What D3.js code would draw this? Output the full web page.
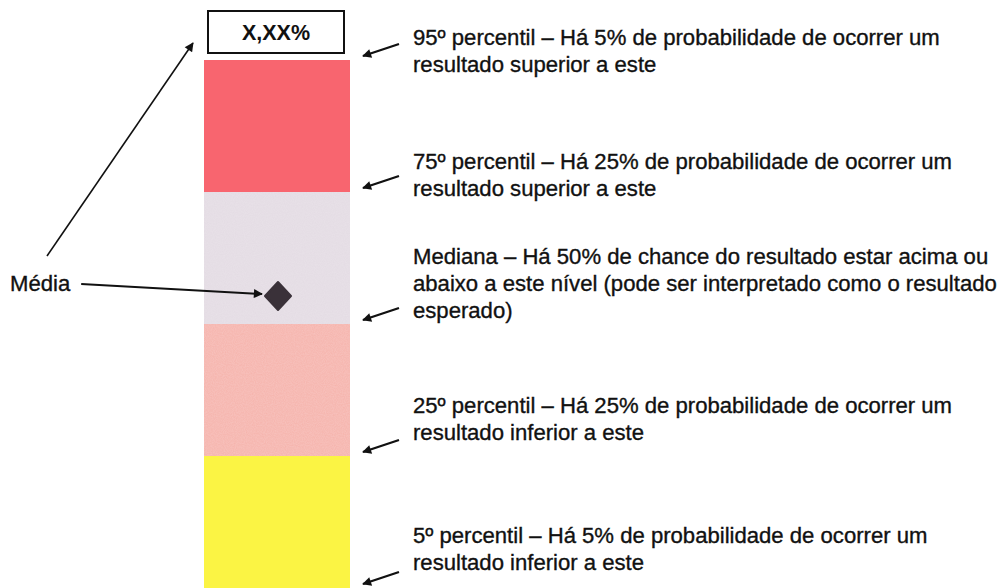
<!DOCTYPE html>
<html>
<head>
<meta charset="utf-8">
<script src="https://cdn.jsdelivr.net/npm/d3@7"></script>
<style>
html,body{margin:0;padding:0;background:#fff;}
svg{display:block;}
text{font-family:"Liberation Sans",Arial,Helvetica,sans-serif;fill:#111;}
text.ann{stroke:#111;stroke-width:0.35px;}
</style>
</head>
<body>
<svg id="chart" width="999" height="588"></svg>
<script>
// ---- data ----
const percentiles = [95, 75, 50, 25, 5];
const bandLabels = ["75–95", "50–75", "25–50", "5–25"];
const bandColors = ["#f8656f", "#e3dbe3", "#f6b2ab", "#fbf444"];
const meanValue = 55.3;
const meanLabel = "Média";
const valueLabel = "X,XX%";
const annotations = [
  ["95º percentil – Há 5% de probabilidade de ocorrer um", "resultado superior a este"],
  ["75º percentil – Há 25% de probabilidade de ocorrer um", "resultado superior a este"],
  ["Mediana – Há 50% de chance do resultado estar acima ou", "abaixo a este nível (pode ser interpretado como o resultado", "esperado)"],
  ["25º percentil – Há 25% de probabilidade de ocorrer um", "resultado inferior a este"],
  ["5º percentil – Há 5% de probabilidade de ocorrer um", "resultado inferior a este"]
];

// ---- drawing ----
const svg = d3.select("#chart");
const y = d3.scaleLinear().domain(percentiles).range([60, 192, 324, 456, 588]);
const x = d3.scaleLinear().domain([0, 1]).range([204, 350]);

const defs = svg.append("defs");
defs.append("marker").attr("id", "ah").attr("viewBox", "0 0 10 10")
  .attr("refX", 9).attr("refY", 5).attr("markerWidth", 11).attr("markerHeight", 9)
  .attr("markerUnits", "userSpaceOnUse").attr("orient", "auto")
  .append("path").attr("d", "M0,0 L10,5 L0,10 Z").attr("fill", "#111");

const f = defs.append("filter").attr("id", "grain").attr("x", 0).attr("y", 0).attr("width", 1).attr("height", 1);
f.append("feTurbulence").attr("type", "fractalNoise").attr("baseFrequency", 0.9).attr("numOctaves", 2).attr("seed", 3).attr("result", "n");
f.append("feColorMatrix").attr("in", "n").attr("type", "matrix")
  .attr("values", "0 0 0 0 1  0 0 0 0 1  0 0 0 0 1  0 0 0 0.18 0").attr("result", "w");
f.append("feComposite").attr("in", "w").attr("in2", "SourceGraphic").attr("operator", "in").attr("result", "wm");
f.append("feMerge").selectAll("feMergeNode").data(["SourceGraphic", "wm"]).join("feMergeNode").attr("in", d => d);

// bands
const bands = bandLabels.map((l, i) => ({label: l, top: percentiles[i], bottom: percentiles[i + 1], color: bandColors[i]}));
svg.append("g").selectAll("rect").data(bands).join("rect")
  .attr("x", x(0)).attr("width", x(1) - x(0))
  .attr("y", d => y(d.top)).attr("height", d => y(d.bottom) - y(d.top))
  .attr("fill", d => d.color)
  .attr("filter", (d, i) => i === 1 || i === 2 ? "url(#grain)" : null);

// value box
svg.append("rect").attr("x", 208).attr("y", 11).attr("width", 136).attr("height", 42)
  .attr("fill", "#fff").attr("stroke", "#111").attr("stroke-width", 2);
svg.append("text").attr("x", 276).attr("y", 40).attr("text-anchor", "middle")
  .attr("font-size", 21.5).attr("font-weight", "bold").text(valueLabel);

// mean diamond
const my = y(meanValue), mx = (x(0) + x(1)) / 2 + 1;
svg.append("path").attr("d", `M${mx},${my - 14} L${mx + 13},${my} L${mx},${my + 14} L${mx - 13},${my} Z`)
  .attr("fill", "#3a3139").attr("stroke", "#3a3139").attr("stroke-width", 2).attr("stroke-linejoin", "round");

// annotation arrows + text
const textOffsets = [-15, -23, -60, -43, -45];
const lineH = 27;
const ag = svg.append("g");
percentiles.forEach((p, i) => {
  const ty = y(p) - 4;
  ag.append("line").attr("x1", 399).attr("y1", ty - 12).attr("x2", 363).attr("y2", ty)
    .attr("stroke", "#111").attr("stroke-width", 2.2).attr("marker-end", "url(#ah)");
});
const tg = svg.append("g");
const texts = [];
annotations.forEach((lines, i) => {
  lines.forEach((l, j) => {
    texts.push(tg.append("text").attr("class", "ann").attr("x", 413).attr("y", y(percentiles[i]) + textOffsets[i] + j * lineH)
      .attr("font-size", 18).text(l));
  });
});
// fit font size to reference width of first line
const w0 = texts[0].node().getComputedTextLength();
const fs = 18 * 527 / w0;
texts.forEach(t => t.attr("font-size", fs));

// Média label and arrows
const ml = svg.append("text").attr("class", "ann").attr("x", 10).attr("y", 291).attr("font-size", fs).text(meanLabel);
const mEnd = 10 + ml.node().getComputedTextLength() + 11;
svg.append("line").attr("x1", mEnd).attr("y1", 284).attr("x2", mx - 16).attr("y2", my - 2)
  .attr("stroke", "#111").attr("stroke-width", 2).attr("marker-end", "url(#ah)");
svg.append("line").attr("x1", 47).attr("y1", 256).attr("x2", 193).attr("y2", 43)
  .attr("stroke", "#111").attr("stroke-width", 1.6).attr("marker-end", "url(#ah)");
</script>
</body>
</html>
